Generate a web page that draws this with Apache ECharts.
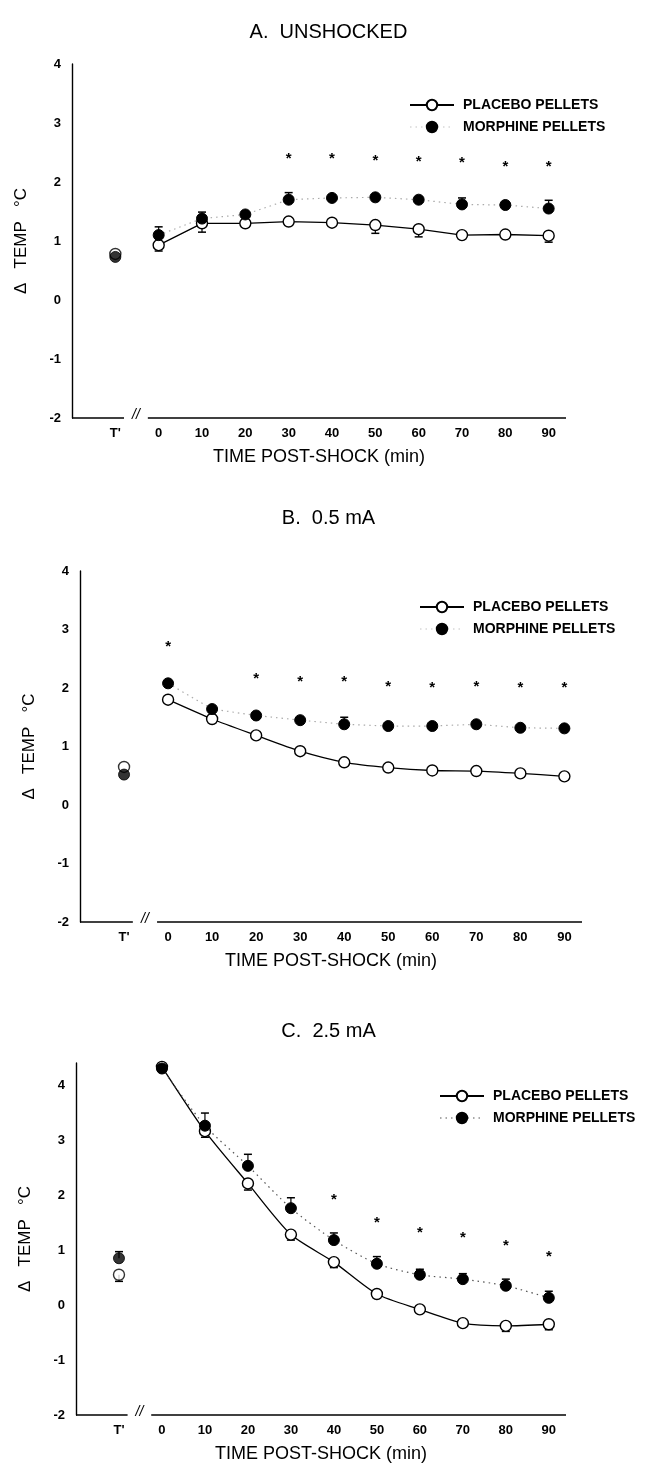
<!DOCTYPE html>
<html><head><meta charset="utf-8">
<script src="https://cdn.jsdelivr.net/npm/echarts@6/dist/echarts.min.js"></script>
<style>html,body{margin:0;padding:0;background:#fff}#c{width:657px;height:1464px}</style>
</head><body><div id="c"></div>
<script>
// ---------- DATA ----------
const TIMES = [0, 10, 20, 30, 40, 50, 60, 70, 80, 90];
const T_PRIME = -10;                 // position of the pre-shock T' point
const T_PRIME_LABEL = "T'";
const Y_TICKS = [-2, -1, 0, 1, 2, 3, 4];
const TITLES = ['A.  UNSHOCKED', 'B.  0.5 mA', 'C.  2.5 mA'];
const NAMES = ['PLACEBO PELLETS', 'MORPHINE PELLETS'];

// Panel A : unshocked
const A_PLACEBO   = [0.93, 1.30, 1.30, 1.33, 1.31, 1.27, 1.20, 1.10, 1.11, 1.09];
const A_PLACEBO_T = 0.78;
const A_PLACEBO_SEM = [0.10, 0.15, 0, 0, 0, 0.14, 0.13, 0, 0, 0.11];
const A_PLACEBO_T_SEM = 0;
const A_MORPHINE  = [1.10, 1.38, 1.45, 1.70, 1.73, 1.74, 1.70, 1.62, 1.61, 1.55];
const A_MORPHINE_T = 0.73;
const A_MORPHINE_SEM = [0.14, 0.11, 0, 0.12, 0, 0, 0, 0.11, 0, 0.14];
const A_MORPHINE_T_SEM = 0;
const A_STARS = [null, null, null, 2.40, 2.40, 2.35, 2.34, 2.33, 2.26, 2.26];

// Panel B : 0.5 mA
const B_PLACEBO   = [1.80, 1.47, 1.19, 0.92, 0.73, 0.64, 0.59, 0.58, 0.54, 0.49];
const B_PLACEBO_T = 0.65;
const B_PLACEBO_SEM = [0, 0, 0, 0, 0, 0, 0, 0, 0, 0];
const B_PLACEBO_T_SEM = 0;
const B_MORPHINE  = [2.08, 1.64, 1.53, 1.45, 1.38, 1.35, 1.35, 1.38, 1.32, 1.31];
const B_MORPHINE_T = 0.52;
const B_MORPHINE_SEM = [0, 0, 0, 0, 0.12, 0, 0, 0, 0, 0];
const B_MORPHINE_T_SEM = 0;
const B_STARS = [2.70, null, 2.15, 2.10, 2.10, 2.02, 2.00, 2.02, 2.00, 2.00];

// Panel C : 2.5 mA
const C_PLACEBO   = [4.33, 3.16, 2.21, 1.28, 0.78, 0.20, -0.08, -0.33, -0.38, -0.35];
const C_PLACEBO_T = 0.55;
const C_PLACEBO_SEM = [0, 0.11, 0.12, 0.10, 0.10, 0, 0, 0, 0.10, 0.10];
const C_PLACEBO_T_SEM = 0.12;
const C_MORPHINE  = [4.30, 3.26, 2.53, 1.76, 1.18, 0.75, 0.55, 0.47, 0.35, 0.13];
const C_MORPHINE_T = 0.85;
const C_MORPHINE_SEM = [0, 0.23, 0.21, 0.19, 0.13, 0.13, 0.10, 0.10, 0.12, 0.12];
const C_MORPHINE_T_SEM = 0.12;
const C_STARS = [null, null, null, null, 1.91, 1.50, 1.31, 1.22, 1.08, 0.88];

const PANEL_DATA = [
  {p: A_PLACEBO, pt: A_PLACEBO_T, ps: A_PLACEBO_SEM, pts: A_PLACEBO_T_SEM,
   m: A_MORPHINE, mt: A_MORPHINE_T, ms: A_MORPHINE_SEM, mts: A_MORPHINE_T_SEM, stars: A_STARS},
  {p: B_PLACEBO, pt: B_PLACEBO_T, ps: B_PLACEBO_SEM, pts: B_PLACEBO_T_SEM,
   m: B_MORPHINE, mt: B_MORPHINE_T, ms: B_MORPHINE_SEM, mts: B_MORPHINE_T_SEM, stars: B_STARS},
  {p: C_PLACEBO, pt: C_PLACEBO_T, ps: C_PLACEBO_SEM, pts: C_PLACEBO_T_SEM,
   m: C_MORPHINE, mt: C_MORPHINE_T, ms: C_MORPHINE_SEM, mts: C_MORPHINE_T_SEM, stars: C_STARS}
];

// ---------- LAYOUT ----------
const X_MIN = -20, X_MAX = 94;
const BREAK = [-8, -2.5];
const LAYOUT = [
  {left: 72, top: 64,   width: 494, height: 354, yMax: 4,   titleTop: 17,   legLeft: 404, legTop: 93,   dotColor: '#aaa', legDot: 0.35},
  {left: 80, top: 571,  width: 502, height: 351, yMax: 4,   titleTop: 503,  legLeft: 414, legTop: 595,  dotColor: '#aaa', legDot: 0.35},
  {left: 76, top: 1063, width: 490, height: 355, yMax: 4.4, titleTop: 1016, legLeft: 434, legTop: 1084, dotColor: '#555', legDot: 1}
];
const FONT = "'Liberation Sans', Arial, Helvetica, sans-serif";

const chart = echarts.init(document.getElementById('c'), null, {renderer: 'canvas'});

const grids = [], xAxes = [], yAxes = [], series = [], titles = [], legends = [];

function errRender(params, api) {
  const x = api.value(0), v = api.value(1), s = api.value(2), d = api.value(3);
  if (!s) return null;
  const p = api.coord([x, v]);
  const e = api.coord([x, v + d * s]);
  return {type: 'group', children: [
    {type: 'line', shape: {x1: p[0], y1: p[1], x2: e[0], y2: e[1]}, style: {stroke: '#000', lineWidth: 1.2}},
    {type: 'line', shape: {x1: e[0] - 4, y1: e[1], x2: e[0] + 4, y2: e[1]}, style: {stroke: '#000', lineWidth: 1.5}}
  ]};
}
function starRender(params, api) {
  const p = api.coord([api.value(0), api.value(1)]);
  return {type: 'text', x: p[0], y: p[1], style: {text: '*', fontSize: 15, fontWeight: 'bold', fontFamily: FONT,
    fill: '#000', align: 'center', verticalAlign: 'middle'}};
}

LAYOUT.forEach((L, i) => {
  const D = PANEL_DATA[i];
  grids.push({left: L.left, top: L.top, width: L.width, height: L.height, containLabel: false});
  xAxes.push({
    gridIndex: i, type: 'value', min: X_MIN, max: X_MAX, interval: 10,
    axisLine: {show: false, onZero: false}, axisTick: {show: false}, splitLine: {show: false},
    axisLabel: {color: '#000', fontSize: 13, fontWeight: 'bold', fontFamily: FONT, margin: 9,
      showMaxLabel: false, showMinLabel: false,
      formatter: v => v === T_PRIME ? T_PRIME_LABEL : (TIMES.indexOf(v) >= 0 ? String(v) : '')},
    name: 'TIME POST-SHOCK (min)', nameLocation: 'middle', nameGap: 30,
    nameTextStyle: {color: '#000', fontSize: 18, fontFamily: FONT}
  });
  yAxes.push({
    gridIndex: i, type: 'value', min: Y_TICKS[0], max: L.yMax, interval: 1,
    axisLine: {show: true, onZero: false, lineStyle: {color: '#000', width: 1.4}},
    axisTick: {show: false}, splitLine: {show: false},
    axisLabel: {color: '#000', fontSize: 13, fontWeight: 'bold', fontFamily: FONT, margin: 11,
      formatter: v => Y_TICKS.indexOf(v) >= 0 ? String(v) : ''},
    name: 'Δ   TEMP   °C', nameLocation: 'middle', nameGap: 42, nameRotate: 90,
    nameTextStyle: {color: '#000', fontSize: 17, fontFamily: FONT}
  });
  titles.push({text: TITLES[i], left: 'center', top: L.titleTop,
    textStyle: {fontSize: 20, fontWeight: 'normal', color: '#000', fontFamily: FONT}});
  legends.push({orient: 'vertical', left: L.legLeft, top: L.legTop, itemWidth: 44, itemHeight: 13, itemGap: 8,
    textStyle: {fontSize: 14, fontWeight: 'bold', color: '#000', fontFamily: FONT, padding: [0, 0, 0, 4]},
    selectedMode: false,
    data: [{name: NAMES[0]}, {name: NAMES[1], lineStyle: {opacity: L.legDot}}]});

  const pStyle = {color: '#fff', borderColor: '#000', borderWidth: 1.4};
  const mStyle = {color: '#000', borderColor: '#000', borderWidth: 1};
  series.push({name: NAMES[0], type: 'line', xAxisIndex: i, yAxisIndex: i, clip: false,
    data: TIMES.map((t, k) => [t, D.p[k]]), symbol: 'circle', symbolSize: 11,
    itemStyle: pStyle, lineStyle: {color: '#000', width: 1.3}, z: 3, smooth: i === 0 ? false : 0.25});
  series.push({name: NAMES[0], type: 'scatter', xAxisIndex: i, yAxisIndex: i, clip: false,
    data: [[T_PRIME, D.pt]], symbol: 'circle', symbolSize: 11, itemStyle: pStyle, z: 3});
  series.push({name: NAMES[1], type: 'line', xAxisIndex: i, yAxisIndex: i, clip: false,
    data: TIMES.map((t, k) => [t, D.m[k]]), symbol: 'circle', symbolSize: 11,
    itemStyle: mStyle, lineStyle: {color: L.dotColor, width: 1.2, type: [1.5, 4]}, z: 4, smooth: i === 2 ? 0.25 : false});
  series.push({name: NAMES[1], type: 'scatter', xAxisIndex: i, yAxisIndex: i, clip: false,
    data: [[T_PRIME, D.mt]], symbol: 'circle', symbolSize: 11, itemStyle: mStyle, z: 4});
  const errP = TIMES.map((t, k) => [t, D.p[k], D.ps[k], -1]).concat([[T_PRIME, D.pt, D.pts, -1]]);
  const errM = TIMES.map((t, k) => [t, D.m[k], D.ms[k], 1]).concat([[T_PRIME, D.mt, D.mts, 1]]);
  series.push({type: 'custom', xAxisIndex: i, yAxisIndex: i, renderItem: errRender, data: errP, z: 1, silent: true, clip: false});
  series.push({type: 'custom', xAxisIndex: i, yAxisIndex: i, renderItem: errRender, data: errM, z: 1, silent: true, clip: false});
  const starData = [];
  D.stars.forEach((s, k) => { if (s !== null) starData.push([TIMES[k], s]); });
  series.push({type: 'custom', xAxisIndex: i, yAxisIndex: i, renderItem: starRender, data: starData, z: 5, silent: true, clip: false});
});

chart.setOption({
  backgroundColor: '#fff', animation: false,
  title: titles, legend: legends, grid: grids, xAxis: xAxes, yAxis: yAxes, series: series
});

// broken x-axis line with "//" mark
const gfx = [];
LAYOUT.forEach((L, i) => {
  const yb = Y_TICKS[0];
  const a = chart.convertToPixel({gridIndex: i}, [X_MIN, yb]);
  const b = chart.convertToPixel({gridIndex: i}, [BREAK[0], yb]);
  const c = chart.convertToPixel({gridIndex: i}, [BREAK[1], yb]);
  const d = chart.convertToPixel({gridIndex: i}, [X_MAX, yb]);
  const m = chart.convertToPixel({gridIndex: i}, [(BREAK[0] + BREAK[1]) / 2, yb]);
  gfx.push({type: 'line', shape: {x1: a[0], y1: a[1], x2: b[0], y2: b[1]}, style: {stroke: '#000', lineWidth: 1.3}});
  gfx.push({type: 'line', shape: {x1: c[0], y1: c[1], x2: d[0], y2: d[1]}, style: {stroke: '#000', lineWidth: 1.3}});
  gfx.push({type: 'text', x: m[0], y: m[1] - 3, style: {text: '//', fontSize: 14, fontFamily: FONT, fill: '#000',
    align: 'center', verticalAlign: 'middle', fontStyle: 'italic'}});
});
chart.setOption({graphic: gfx});
</script></body></html>
